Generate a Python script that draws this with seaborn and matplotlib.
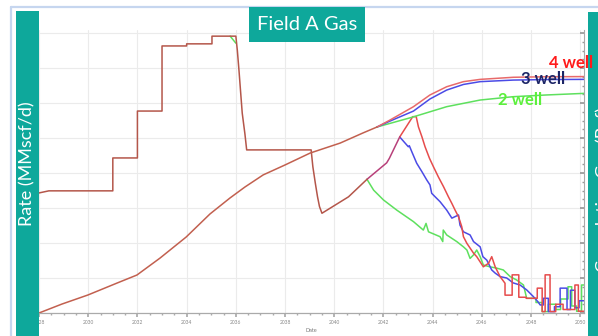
import matplotlib
matplotlib.use("Agg")
import matplotlib.pyplot as plt
import seaborn as sns
from matplotlib.patches import Rectangle
from matplotlib.lines import Line2D
from matplotlib.ticker import MultipleLocator

sns.set_theme(style="white")
plt.rcParams['font.family'] = ['Lato', 'DejaVu Sans']

# ---------------------------------------------------------------------------
# Data (rate in MMscf/d, cumulative in Bcf)
# ---------------------------------------------------------------------------
# history shared by all cases, until the 2 well case splits off
hist_years = [2028.0, 2028.4, 2031.0, 2031.0, 2032.0, 2032.0, 2033.0, 2033.0,
              2034.0, 2034.0, 2035.03, 2035.03, 2036.0, 2036.06, 2036.13, 2036.2,
              2036.26, 2036.37, 2036.44, 2039.06, 2039.13, 2039.23, 2039.32,
              2039.40, 2039.50, 2040.58, 2041.33]
hist_rate = [34.3, 34.9, 34.9, 44.3, 44.3, 57.7, 57.7, 76.3,
             76.3, 76.9, 76.9, 79.1, 79.1, 75.1, 69.1, 62.6,
             57.1, 51.1, 46.6, 46.6, 41.8, 37.1, 33.2,
             30.4, 28.5, 33.2, 38.2]

# 3 and 4 well cases still together
rb_years = [2041.33, 2042.13, 2042.24, 2042.66]
rb_rate = [38.2, 42.9, 44.2, 50.3]

# small green kink at the plateau end
g_kink_years = [2035.77, 2036.0]
g_kink_rate = [79.1, 77.1]

green_years = [2041.33, 2041.6, 2042.0, 2042.54, 2043.22, 2043.62, 2043.73, 2043.83,
               2044.30, 2044.41, 2044.43, 2044.57, 2044.98, 2045.25, 2045.39, 2045.52,
               2045.66, 2045.79, 2045.93, 2046.06, 2046.33, 2046.61, 2046.87, 2047.15,
               2047.42, 2047.69, 2047.82, 2048.2, 2048.2, 2048.45, 2048.45, 2048.7,
               2048.7, 2049.0, 2049.0, 2049.2, 2049.2, 2049.5, 2049.5, 2049.65,
               2049.65, 2049.85, 2049.85, 2050.05, 2050.05, 2050.15]
green_rate = [38.2, 35.1, 32.3, 29.4, 26.1, 23.7, 25.6, 23.2,
              21.8, 20.4, 23.7, 22.3, 20.4, 18.9, 18.0, 15.6,
              16.6, 18.0, 16.1, 13.7, 13.2, 12.8, 12.3, 10.4,
              9.4, 8.0, 4.2, 4.2, 3.0, 3.0, 0.4, 0.4,
              2.5, 2.5, 1.0, 1.0, 4.0, 4.0, 7.5, 7.5,
              2.0, 2.0, 0.5, 0.5, 8.0, 8.0]

blue_years = [2042.66, 2043.01, 2043.05, 2043.15, 2043.35, 2043.56, 2043.76, 2043.89,
              2043.96, 2044.10, 2044.30, 2044.57, 2044.78, 2045.05, 2045.11, 2045.25,
              2045.52, 2045.66, 2045.93, 2046.04, 2046.20, 2046.40, 2046.54, 2046.74,
              2047.01, 2047.27, 2047.55, 2047.82, 2048.09, 2048.28, 2048.37, 2048.5,
              2048.5, 2048.7, 2048.7, 2048.95, 2048.95, 2049.18, 2049.18, 2049.46,
              2049.46, 2049.6, 2049.6, 2049.78, 2049.78, 2049.95, 2049.95, 2050.15]
blue_rate = [50.3, 47.5, 47.8, 46.1, 42.8, 40.4, 38.0, 36.6,
             34.2, 33.2, 31.8, 29.4, 27.1, 28.0, 25.1, 23.2,
             22.3, 20.4, 18.9, 16.1, 15.1, 12.3, 11.4, 10.4,
             10.0, 8.6, 8.0, 6.6, 4.7, 3.2, 2.3, 2.3,
             4.2, 4.2, 0.4, 0.4, 1.8, 1.8, 7.1, 7.1,
             1.0, 1.0, 6.5, 6.5, 1.5, 1.5, 3.5, 3.5]

red_years = [2042.66, 2043.19, 2043.33, 2043.42, 2043.56, 2043.69, 2043.87, 2044.03,
             2044.23, 2044.44, 2044.64, 2044.78, 2044.91, 2045.05, 2045.18, 2045.25,
             2045.39, 2045.66, 2045.79, 2046.06, 2046.27, 2046.40, 2046.54, 2046.74,
             2046.94, 2046.94, 2047.23, 2047.23, 2047.5, 2047.5, 2047.8, 2047.8,
             2048.25, 2048.25, 2048.45, 2048.45, 2048.57, 2048.57, 2048.77, 2048.77,
             2049.0, 2049.0, 2049.3, 2049.3, 2049.78, 2049.78, 2049.92, 2049.92, 2050.15]
red_rate = [50.3, 56.1, 56.1, 53.2, 50.4, 47.5, 44.2, 41.8,
            38.9, 36.1, 33.2, 31.3, 29.4, 27.5, 24.7, 21.8,
            19.9, 17.1, 16.1, 13.2, 14.2, 16.1, 13.2, 10.4,
            8.5, 5.1, 5.1, 10.9, 10.9, 4.5, 4.5, 4.2,
            4.2, 7.1, 7.1, 0.4, 0.4, 10.9, 10.9, 0.4,
            0.4, 2.5, 2.5, 1.0, 1.0, 8.0, 8.0, 0.5, 0.5]

# cumulative gas
cum_hist_years = [2028.0, 2028.93, 2029.99, 2031.17, 2031.98, 2032.92, 2033.98, 2034.95,
                  2035.76, 2036.37, 2037.11, 2038.0, 2039.02, 2040.24, 2041.17, 2041.74]
cum_hist = [0.0, 5.1, 10.3, 17.1, 21.7, 31.4, 43.4, 56.6,
            65.7, 72.0, 78.9, 84.6, 91.4, 97.1, 102.9, 106.3]
cum_years_tail = [2041.74, 2042.27, 2043.22, 2043.89, 2044.57, 2045.25, 2045.93,
                  2047.28, 2048.64, 2050.15]
cum_red = [106.3, 110.3, 117.9, 124.6, 129.3, 132.2, 133.5, 134.7, 135.0, 135.1]
cum_blue = [106.3, 109.7, 115.4, 122.3, 127.4, 130.6, 132.2, 133.1, 133.4, 133.5]
cum_green_years = [2041.74, 2043.15, 2044.57, 2045.93, 2047.27, 2048.64, 2050.15]
cum_green = [106.3, 111.8, 117.9, 121.7, 123.6, 124.6, 125.5]

well_labels = ["4 well", "3 well", "2 well"]

# ---------------------------------------------------------------------------
TEAL = "#0ea89b"
RED, BLUE, GREEN = "#e64c4c", "#4b4be6", "#5ee05e"
HIST = "#b4564a"
CUM_HIST = "#c2604f"

fig = plt.figure(figsize=(5.98, 3.36), dpi=100)
ax = fig.add_axes([39 / 598, 1 - 313 / 336, 545 / 598, 283.5 / 336])
ax2 = ax.twinx()

lw = 1.1
sns.lineplot(x=green_years, y=green_rate, ax=ax, color=GREEN, lw=lw, estimator=None, sort=False)
sns.lineplot(x=g_kink_years, y=g_kink_rate, ax=ax, color=GREEN, lw=lw, estimator=None, sort=False)
sns.lineplot(x=blue_years, y=blue_rate, ax=ax, color=BLUE, lw=lw, estimator=None, sort=False)
sns.lineplot(x=red_years, y=red_rate, ax=ax, color=RED, lw=lw, estimator=None, sort=False)
sns.lineplot(x=rb_years, y=rb_rate, ax=ax, color="#b8407a", lw=lw, estimator=None, sort=False)
sns.lineplot(x=hist_years, y=hist_rate, ax=ax, color=HIST, lw=lw, estimator=None, sort=False)

sns.lineplot(x=cum_green_years, y=cum_green, ax=ax2, color=GREEN, lw=lw, estimator=None, sort=False)
sns.lineplot(x=cum_years_tail, y=cum_blue, ax=ax2, color=BLUE, lw=lw, estimator=None, sort=False)
sns.lineplot(x=cum_years_tail, y=cum_red, ax=ax2, color="#e86a6a", lw=lw, estimator=None, sort=False)
sns.lineplot(x=cum_hist_years, y=cum_hist, ax=ax2, color=CUM_HIST, lw=lw, estimator=None, sort=False)

ax.set_xlim(2028, 2050.15)
ax.set_ylim(0, 81)
ax2.set_ylim(0, 162)

ax.xaxis.set_major_locator(MultipleLocator(2))
ax.xaxis.set_minor_locator(MultipleLocator(0.5))
ax.yaxis.set_major_locator(MultipleLocator(10))
ax.grid(True, which="major", color="#ebebeb", lw=0.8)
ax.set_axisbelow(True)
ax.tick_params(axis="x", which="major", labelsize=3.5, labelcolor="#888888", length=3,
               color="#aaaaaa", pad=2, bottom=True)
ax.tick_params(axis="x", which="minor", length=1.5, color="#aaaaaa", bottom=True)
ax.tick_params(axis="y", left=False, labelleft=False)
ax.set_xlabel("Date", fontsize=4, color="#777777", labelpad=2)
ax.set_ylabel("")
ax2.set_ylabel("")

ax2.yaxis.set_major_locator(MultipleLocator(20))
ax2.yaxis.set_minor_locator(MultipleLocator(5))
ax2.tick_params(axis="y", which="both", direction="in", color="#999999", right=True,
                labelright=False)
ax2.tick_params(axis="y", which="major", length=3)
ax2.tick_params(axis="y", which="minor", length=1.5)

for a in (ax, ax2):
    for side in ("top", "left"):
        a.spines[side].set_visible(False)
    a.spines["bottom"].set_color("#aaaaaa")
    a.spines["right"].set_color("#aaaaaa")
    a.spines["bottom"].set_linewidth(0.8)
    a.spines["right"].set_linewidth(0.8)
ax.spines["right"].set_visible(False)

# light blue frame of the slide
fig.add_artist(Line2D([11 / 598, 1.0], [1 - 7 / 336, 1 - 7 / 336], transform=fig.transFigure,
                      color="#c6d6ef", lw=1.6, zorder=5))
fig.add_artist(Line2D([11 / 598, 11 / 598], [0, 1 - 7 / 336], transform=fig.transFigure,
                      color="#c6d6ef", lw=1.6, zorder=5))

# teal side bars with axis titles
fig.add_artist(Rectangle((16 / 598, 0), 23 / 598, 1 - 11 / 336, transform=fig.transFigure,
                         facecolor=TEAL, edgecolor="none", zorder=10))
fig.add_artist(Rectangle((588 / 598, 0), 10 / 598, 1 - 12 / 336, transform=fig.transFigure,
                         facecolor=TEAL, edgecolor="none", zorder=10))
fig.text(27.5 / 598, 1 - 164 / 336, "Rate (MMscf/d)", rotation=90, ha="center", va="center",
         color="white", fontsize=13, zorder=11)
fig.text(604 / 598, 1 - 190 / 336, "Cumulative Gas (Bcf)", rotation=90, ha="center",
         va="center", color="white", fontsize=13, zorder=11)

# title box
fig.add_artist(Rectangle((249 / 598, 1 - 42 / 336), 116 / 598, 35 / 336,
                         transform=fig.transFigure, facecolor=TEAL, edgecolor="none", zorder=10))
fig.text(307 / 598, 1 - 24.5 / 336, "Field A Gas", ha="center", va="center", color="white",
         fontsize=14.5, zorder=11)

# case labels (right edge, centre height in cumulative-axis units)
label_pos = [(2050.52, 143.0), (2049.38, 133.5), (2048.45, 121.5)]
label_colors = ["#ff1a1a", "#1c2566", "#5cf03c"]
for txt, (lx, ly), c in zip(well_labels, label_pos, label_colors):
    fig.text(lx, ly, txt, transform=ax2.transData, ha="right", va="center", color=c,
             fontsize=12, fontweight="bold", zorder=12)

fig.savefig("out.png", dpi=100)
